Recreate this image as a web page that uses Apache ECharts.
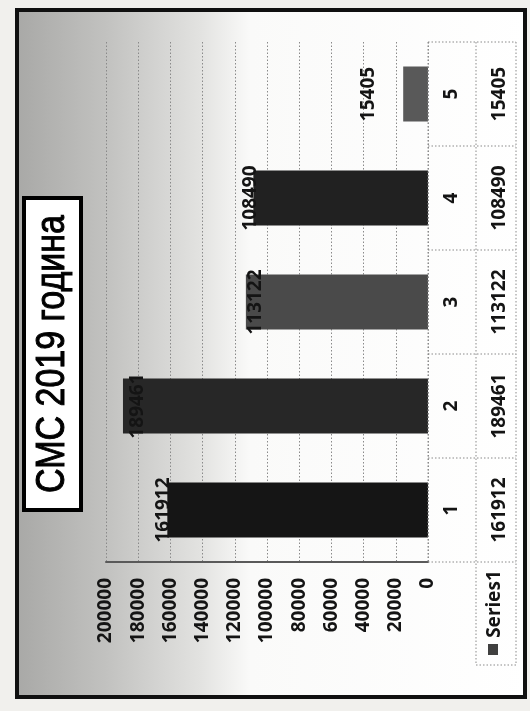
<!DOCTYPE html>
<html><head><meta charset="utf-8">
<script src="https://cdn.jsdelivr.net/npm/echarts@6/dist/echarts.min.js"></script>
<style>html,body{margin:0;padding:0;background:#f1f0ed}#c{width:530px;height:711px}</style>
</head><body><div id="c"></div>
<script>
// ---- data ----
const categories = ['1', '2', '3', '4', '5'];
const seriesName = 'Series1';
const values = [161912, 189461, 113122, 108490, 15405];
const valueTickLabels = ['0', '20000', '40000', '60000', '80000', '100000', '120000', '140000', '160000', '180000', '200000'];
const titleText = 'СМС 2019 година';

// ---- styles ----
const barColors = ['#151515', '#272727', '#4a4a4a', '#212121', '#595959'];
const labelShift = [4, -15, -10, 3, 35];
const FONT = 'Noto Sans';

// ---- layout ----
const gridTop = 42, gridBottomY = 562, plotLeft = 106, plotRight = 428;
const W = 530, H = 711;
const bandH = (gridBottomY - gridTop) / categories.length;
const colDiv = 476, tableRight = 516, tableBottom = 665;

const chart = echarts.init(document.getElementById('c'), null, {renderer: 'canvas'});

const dotted = {stroke: '#8a8a8a', lineWidth: 1, lineDash: [1.5, 2]};
const tableLines = [];
for (let k = 0; k <= categories.length; k++) {
  const y = gridTop + bandH * k;
  tableLines.push({type: 'line', z: 10, silent: true, shape: {x1: plotRight, y1: y, x2: tableRight, y2: y}, style: dotted});
}
tableLines.push({type: 'line', z: 10, silent: true, shape: {x1: plotRight, y1: gridTop, x2: plotRight, y2: gridBottomY}, style: dotted});
tableLines.push({type: 'line', z: 10, silent: true, shape: {x1: colDiv, y1: gridTop, x2: colDiv, y2: tableBottom}, style: dotted});
tableLines.push({type: 'line', z: 10, silent: true, shape: {x1: tableRight, y1: gridTop, x2: tableRight, y2: tableBottom}, style: dotted});
tableLines.push({type: 'line', z: 10, silent: true, shape: {x1: colDiv, y1: tableBottom, x2: tableRight, y2: tableBottom}, style: dotted});

const labelFont = {fontFamily: FONT, fontSize: 19, fontWeight: 'bold', color: '#141414'};

chart.setOption({
  animation: false,
  grid: {left: plotLeft, right: W - plotRight, top: gridTop, bottom: H - gridBottomY, containLabel: false},
  xAxis: {
    type: 'value', inverse: true, position: 'bottom',
    min: 0, max: 200000, interval: 20000,
    axisLine: {show: true, lineStyle: {color: '#5a5a5a', width: 2}},
    axisTick: {show: false},
    splitLine: {show: true, lineStyle: {color: '#8a8a8a', type: [1.5, 2], width: 1}},
    axisLabel: Object.assign({rotate: 90, margin: 16, formatter: (v) => valueTickLabels[Math.round(v / 20000)]}, labelFont)
  },
  yAxis: [{
    type: 'category', data: categories, position: 'right',
    axisLine: {show: false}, axisTick: {show: false},
    axisLabel: Object.assign({rotate: 90, margin: 14}, labelFont)
  }, {
    type: 'category', data: categories, position: 'right', offset: 48,
    axisLine: {show: false}, axisTick: {show: false},
    axisLabel: Object.assign({rotate: 90, margin: 14, formatter: (v, i) => String(values[i])}, labelFont)
  }],
  series: [{
    name: seriesName, type: 'bar', yAxisIndex: 0, barWidth: 55,
    data: values.map((v, i) => ({
      value: v,
      itemStyle: {color: barColors[i]},
      label: {offset: [0, -labelShift[i]]}
    })),
    label: Object.assign({show: true, position: 'left', distance: 0, rotate: 90, align: 'center', verticalAlign: 'middle'}, labelFont)
  }],
  graphic: [
    {type: 'rect', z: -10, silent: true, shape: {x: 17, y: 10, width: 508, height: 687},
     style: {fill: new echarts.graphic.LinearGradient(0, 0, 1, 0, [
       {offset: 0, color: '#a8a8a6'}, {offset: 0.18, color: '#c2c2c0'},
       {offset: 0.36, color: '#e2e2e0'}, {offset: 0.46, color: '#fafaf9'}, {offset: 1, color: '#ffffff'}]),
       stroke: '#101010', lineWidth: 4}},
    {type: 'rect', z: 20, silent: true, shape: {x: 24, y: 198, width: 57, height: 312},
     style: {fill: '#ffffff', stroke: '#000000', lineWidth: 4}},
    {type: 'text', z: 21, silent: true, x: 53, y: 354, rotation: Math.PI / 2, scaleX: 0.85,
     style: {text: titleText, fontFamily: 'Liberation Sans', fontSize: 40, fill: '#000', stroke: '#000', lineWidth: 1,
             align: 'center', verticalAlign: 'middle', textAlign: 'center', textVerticalAlign: 'middle'}},
    {type: 'text', z: 21, silent: true, x: 495, y: 604, rotation: Math.PI / 2,
     style: {text: seriesName, fontFamily: FONT, fontSize: 19, fontWeight: 'bold', fill: '#141414',
             align: 'center', verticalAlign: 'middle', textAlign: 'center', textVerticalAlign: 'middle'}},
    {type: 'rect', z: 21, silent: true, shape: {x: 488, y: 644, width: 10, height: 11}, style: {fill: '#404040'}}
  ].concat(tableLines)
});
</script>
</body></html>
